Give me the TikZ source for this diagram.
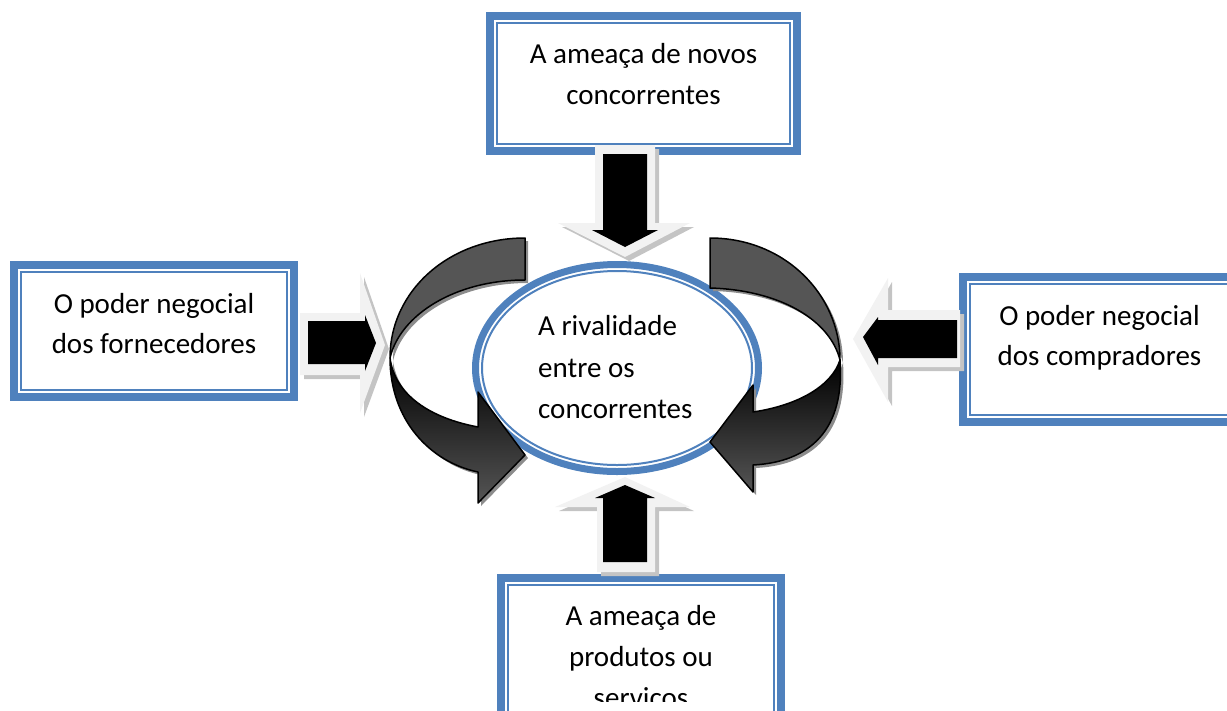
\documentclass[tikz,border=0pt]{standalone}
\usepackage{fontspec}
\setmainfont{Carlito}
\usetikzlibrary{shapes.geometric}
\definecolor{frameblue}{RGB}{79,129,189}
\definecolor{ribbongrey}{RGB}{85,85,85}
\definecolor{ribbonshadow}{RGB}{140,140,140}
\definecolor{arrowlight}{RGB}{242,242,242}
\definecolor{arrowshadow}{RGB}{196,196,196}

% Curved ribbons (upper flat part and lower shaded part with head)
\newcommand\ribbonLeftUp[1]{\path[#1] (525,238) .. controls (450,238) and (390,290) .. (390,358)
  .. controls (400,315) and (455,280) .. (525,280) -- cycle;}
\newcommand\ribbonLeftLow[1]{\path[#1] (390,358) .. controls (390,420) and (430,462) .. (478,472)
  -- (478,503) -- (525,455) -- (478,392) -- (478,427)
  .. controls (430,418) and (395,395) .. (390,358) -- cycle;}
\newcommand\ribbonRightUp[1]{\path[#1] (710,238) .. controls (785,238) and (840,295) .. (840,360)
  .. controls (830,320) and (780,290) .. (710,288) -- cycle;}
\newcommand\ribbonRightLow[1]{\path[#1] (840,360) .. controls (845,430) and (810,462) .. (753,465)
  -- (753,492) -- (710,442) -- (753,385) -- (753,412)
  .. controls (800,405) and (832,385) .. (840,360) -- cycle;}

% Light bevelled block arrows
\newcommand\lightTop[1]{\path[#1] (595,145) -- (655,145) -- (655,223) -- (690,223) -- (625,257)
  -- (558,223) -- (595,223) -- cycle;}
\newcommand\lightLeft[1]{\path[#1] (300,313) -- (360,313) -- (360,273) -- (385,345) -- (360,413)
  -- (360,375) -- (300,375) -- cycle;}
\newcommand\lightRight[1]{\path[#1] (960,310) -- (888,310) -- (888,278) -- (853,339) -- (888,402)
  -- (888,367) -- (960,367) -- cycle;}
\newcommand\lightBottom[1]{\path[#1] (597,572) -- (597,507) -- (555,507) -- (625,477) -- (690,507)
  -- (655,507) -- (655,572) -- cycle;}

\begin{document}
\begin{tikzpicture}[x=1pt,y=-1pt,
  framebox/.style={draw=frameblue, line width=8pt, fill=white, inner sep=0pt, outer sep=0pt},
  innerline/.style={draw=frameblue, line width=2pt},
  txt/.style={font=\fontsize{29pt}{41pt}\selectfont, inner sep=0pt, anchor=base},
  ribbonflat/.style={fill=ribbongrey, draw=black, line width=1.5pt, line join=round},
  ribbonshade/.style={top color=black, bottom color=ribbongrey, draw=black, line width=1.5pt, line join=round},
  ribbonsh/.style={fill=ribbonshadow, shift={(3,3)}},
  lightfill/.style={fill=arrowlight},
  lightsh/.style={fill=arrowshadow, shift={(4,4)}},
  darkarrow/.style={fill=black}]
\useasboundingbox (0,0) rectangle (1227,710);
\clip (0,0) rectangle (1227,710);

% Framed boxes: thick outer border with a thin line inside
\node[framebox, minimum width=307pt, minimum height=135pt] (novos) at (643.5,83.5) {};
\draw[innerline] ([shift={(7,7)}]novos.north west) rectangle ([shift={(-7,-7)}]novos.south east);
\node[framebox, minimum width=280pt, minimum height=132pt] (fornec) at (154,331) {};
\draw[innerline] ([shift={(7,7)}]fornec.north west) rectangle ([shift={(-7,-7)}]fornec.south east);
\node[framebox, minimum width=273pt, minimum height=145pt] (compr) at (1099.5,349.5) {};
\draw[innerline] ([shift={(7,7)}]compr.north west) rectangle ([shift={(-7,-7)}]compr.south east);
\node[framebox, minimum width=280pt, minimum height=143pt] (subst) at (641,649.5) {};
\draw[innerline] ([shift={(7,7)}]subst.north west) rectangle ([shift={(-7,-7)}]subst.south east);

% Box texts
\node[txt] (novosA) at (643.5,63) {A ameaça de novos};
\node[txt] (novosB) at (643.5,104) {concorrentes};
\node[txt] (fornecA) at (154,313) {O poder negocial};
\node[txt] (fornecB) at (154,353) {dos fornecedores};
\node[txt] (comprA) at (1099.5,325) {O poder negocial};
\node[txt] (comprB) at (1099.5,365) {dos compradores};
\begin{scope}
  \clip (497,574) rectangle (785,701);
  \node[txt] (substA) at (641,625) {A ameaça de};
  \node[txt] (substB) at (641,666) {produtos ou};
  \node[txt] (substC) at (641,707) {serviços};
\end{scope}

% Central ellipse
\node[ellipse, draw=frameblue, line width=7pt, fill=white, inner sep=0pt,
  minimum width=283pt, minimum height=207pt] (rival) at (617,368) {};
\draw[innerline] (rival.center) ellipse [x radius=135pt, y radius=97pt];
\node[txt, anchor=base west] (rivalA) at (538,335) {A rivalidade};
\node[txt, anchor=base west] (rivalB) at (538,377) {entre os};
\node[txt, anchor=base west] (rivalC) at (538,418) {concorrentes};

% Curved ribbons around the ellipse
\ribbonLeftUp{ribbonsh}
\ribbonLeftLow{ribbonsh}
\ribbonRightUp{ribbonsh}
\ribbonRightLow{ribbonsh}
\ribbonLeftUp{ribbonflat}
\ribbonLeftLow{ribbonshade}
\ribbonRightUp{ribbonflat}
\ribbonRightLow{ribbonshade}

% Block arrows pointing to the centre
\lightTop{lightsh}
\lightTop{lightfill}
\path[darkarrow] (603,154) -- (647,154) -- (647,230) -- (658,230) -- (625,247) -- (592,230) -- (603,230) -- cycle;
\lightLeft{lightsh}
\lightLeft{lightfill}
\path[darkarrow] (308,321) -- (365,321) -- (365,315) -- (376,343) -- (365,371) -- (365,364) -- (308,364) -- cycle;
\lightRight{lightsh}
\lightRight{lightfill}
\path[darkarrow] (957,320) -- (878,320) -- (878,317) -- (863,337) -- (878,365) -- (878,358) -- (957,358) -- cycle;
\lightBottom{lightsh}
\lightBottom{lightfill}
\path[darkarrow] (603,562) -- (603,498) -- (595,498) -- (625,485) -- (655,498) -- (647,498) -- (647,562) -- cycle;
\end{tikzpicture}
\end{document}
